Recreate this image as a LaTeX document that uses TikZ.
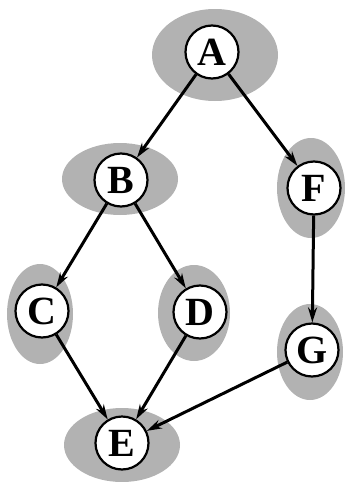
\documentclass[tikz,border=0pt]{standalone}
\usepackage{fontspec}
\setmainfont{Liberation Serif}
\usetikzlibrary{arrows.meta}
\begin{document}
\begin{tikzpicture}[x=1pt,y=-1pt,
  halo/.style={fill=black!30},
  vertex/.style={circle,draw,line width=2.2pt,fill=white,minimum size=53pt,inner sep=0pt,
    font=\fontsize{40}{40}\selectfont\bfseries},
  edge/.style={line width=3pt,-{Stealth[length=15pt,width=9pt]}}]
\useasboundingbox (0,0) rectangle (346,482);
% shaded regions behind the vertices
\fill[halo] (215,55) ellipse [x radius=63,y radius=46];
\fill[halo] (120,179) ellipse [x radius=58,y radius=36];
\fill[halo] (311,188) ellipse [x radius=34,y radius=50];
\fill[halo] (40,314) ellipse [x radius=33,y radius=50];
\fill[halo] (194,313) ellipse [x radius=36,y radius=48];
\fill[halo] (310,352) ellipse [x radius=33,y radius=48];
\fill[halo] (122,445) ellipse [x radius=58,y radius=37];
% vertices
\node[vertex] (A) at (212,52) {A};
\node[vertex] (B) at (121,180) {B};
\node[vertex] (F) at (314,188) {F};
\node[vertex] (C) at (42,311) {C};
\node[vertex] (D) at (200,312) {D};
\node[vertex] (G) at (312,350) {G};
\node[vertex] (E) at (122,443) {E};
% edges
\draw[edge] (A) -- (B);
\draw[edge] (A) -- (F);
\draw[edge] (B) -- (C);
\draw[edge] (B) -- (D);
\draw[edge] (F) -- (G);
\draw[edge] (C) -- (E);
\draw[edge] (D) -- (E);
\draw[edge] (G) -- (E);
\end{tikzpicture}
\end{document}
